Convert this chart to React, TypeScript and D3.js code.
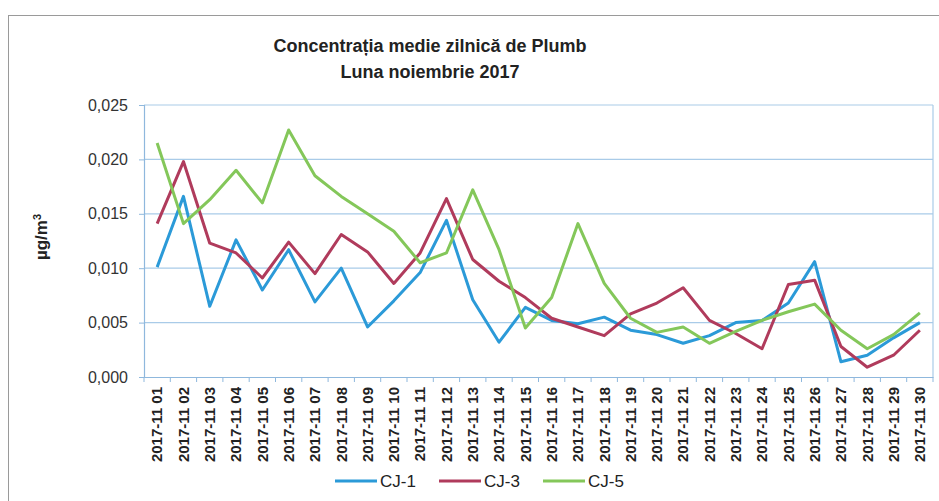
import React, { useEffect, useRef } from 'react';
import * as d3 from 'd3';

const days = d3.range(1, 31).map(d => '2017-11 ' + String(d).padStart(2, '0'));

const cj1 = [0.0101, 0.0166, 0.0065, 0.0126, 0.0080, 0.0117, 0.0069, 0.0100, 0.0046, 0.0070,
  0.0096, 0.0144, 0.0071, 0.0032, 0.0064, 0.0052, 0.0049, 0.0055, 0.0043, 0.0039,
  0.0031, 0.0038, 0.0050, 0.0052, 0.0068, 0.0106, 0.0014, 0.0020, 0.0036, 0.0050];

const cj3 = [0.0141, 0.0198, 0.0123, 0.0114, 0.0091, 0.0124, 0.0095, 0.0131, 0.0115, 0.0086,
  0.0114, 0.0164, 0.0108, 0.0088, 0.0073, 0.0054, 0.0046, 0.0038, 0.0058, 0.0068,
  0.0082, 0.0052, 0.0040, 0.0026, 0.0085, 0.0089, 0.0028, 0.0009, 0.0020, 0.0043];

const cj5 = [0.0215, 0.0141, 0.0163, 0.0190, 0.0160, 0.0227, 0.0185, 0.0166, 0.0150, 0.0134,
  0.0105, 0.0114, 0.0172, 0.0117, 0.0045, 0.0073, 0.0141, 0.0086, 0.0054, 0.0041,
  0.0046, 0.0031, 0.0042, 0.0052, 0.0060, 0.0067, 0.0043, 0.0026, 0.0039, 0.0059];

const yTicks = [0, 0.005, 0.01, 0.015, 0.02, 0.025];

const series = [
  { name: 'CJ-1', values: cj1, color: '#2b9ad8' },
  { name: 'CJ-3', values: cj3, color: '#b03b5c' },
  { name: 'CJ-5', values: cj5, color: '#84c75a' },
];

const App = () => {
  const ref = useRef<SVGSVGElement>(null);

  useEffect(() => {
    const svg = d3.select(ref.current);
    svg.selectAll('*').remove();

    const left = 144, right = 933, top = 105, bottom = 377;
    const font = 'Liberation Sans, Arial, sans-serif';

    const x = d3.scaleBand().domain(days).range([left, right]);
    const y = d3.scaleLinear().domain([0, 0.025]).range([bottom, top]);

    // chart border
    svg.append('rect')
      .attr('x', 8.5).attr('y', 15.5)
      .attr('width', 960).attr('height', 520)
      .attr('fill', 'none').attr('stroke', '#9a9a9a');

    // title
    const title = svg.append('text')
      .attr('text-anchor', 'middle')
      .attr('font-family', font)
      .attr('font-weight', 'bold')
      .attr('font-size', 18)
      .attr('fill', '#222');
    title.append('tspan').attr('x', 430).attr('y', 52).text('Concentrația medie zilnică de Plumb');
    title.append('tspan').attr('x', 430).attr('y', 78).text('Luna noiembrie 2017');

    // grid
    svg.append('g')
      .selectAll('line')
      .data(yTicks.filter(t => t > 0))
      .join('line')
      .attr('x1', left).attr('x2', right)
      .attr('y1', d => y(d)).attr('y2', d => y(d))
      .attr('stroke', '#a9cbe8').attr('stroke-width', 1.2);

    svg.append('line')
      .attr('x1', right).attr('x2', right).attr('y1', top).attr('y2', bottom)
      .attr('stroke', '#a9cbe8').attr('stroke-width', 1.2);

    // y axis
    const yAxis = svg.append('g')
      .attr('transform', `translate(${left},0)`)
      .call(d3.axisLeft(y).tickValues(yTicks).tickSize(5).tickPadding(11)
        .tickFormat(d => d3.format('.3f')(d as number).replace('.', ',')));
    yAxis.select('.domain').attr('stroke', '#8fb8dd').attr('stroke-width', 1.2);
    yAxis.selectAll('.tick line').attr('stroke', '#8fb8dd');
    yAxis.selectAll('text')
      .attr('font-family', font).attr('font-size', 16).attr('fill', '#333');

    svg.append('text')
      .attr('transform', `translate(47,237) rotate(-90)`)
      .attr('text-anchor', 'middle')
      .attr('font-family', font)
      .attr('font-weight', 'bold')
      .attr('font-size', 17)
      .attr('fill', '#222')
      .html('µg/m<tspan dy="-6" font-size="11">3</tspan>');

    // x axis
    const xAxis = svg.append('g')
      .attr('transform', `translate(0,${bottom})`)
      .call(d3.axisBottom(x).tickSize(0).tickPadding(0));
    xAxis.select('.domain').attr('stroke', '#8fb8dd').attr('stroke-width', 1.2);
    xAxis.selectAll('.tick text')
      .attr('transform', 'rotate(-90)')
      .attr('text-anchor', 'end')
      .attr('x', -10).attr('y', 0).attr('dy', '0.35em')
      .attr('font-family', font).attr('font-weight', 'bold')
      .attr('font-size', 15).attr('fill', '#222');

    svg.append('g')
      .selectAll('line')
      .data(days.concat(['end']))
      .join('line')
      .attr('x1', (d, i) => left + i * x.bandwidth())
      .attr('x2', (d, i) => left + i * x.bandwidth())
      .attr('y1', bottom).attr('y2', bottom + 5)
      .attr('stroke', '#8fb8dd');

    // lines
    const line = d3.line<number>()
      .x((d, i) => (x(days[i]) as number) + x.bandwidth() / 2)
      .y(d => y(d));

    series.forEach(s => {
      svg.append('path')
        .datum(s.values)
        .attr('fill', 'none')
        .attr('stroke', s.color)
        .attr('stroke-width', 3)
        .attr('stroke-linejoin', 'round')
        .attr('d', line);
    });

    // legend
    const legend = svg.append('g')
      .selectAll('g')
      .data(series)
      .join('g')
      .attr('transform', (d, i) => `translate(${335 + i * 104},481)`);
    legend.append('line')
      .attr('x1', 0).attr('x2', 42)
      .attr('stroke', d => d.color).attr('stroke-width', 3);
    legend.append('text')
      .attr('x', 45).attr('dy', '0.36em')
      .attr('font-family', font).attr('font-size', 17).attr('fill', '#222')
      .text(d => d.name);
  }, []);

  return (
    <svg ref={ref} width={939} height={501}
      style={{ position: 'absolute', left: 0, top: 0, background: '#fff' }} />
  );
};

export default App;
